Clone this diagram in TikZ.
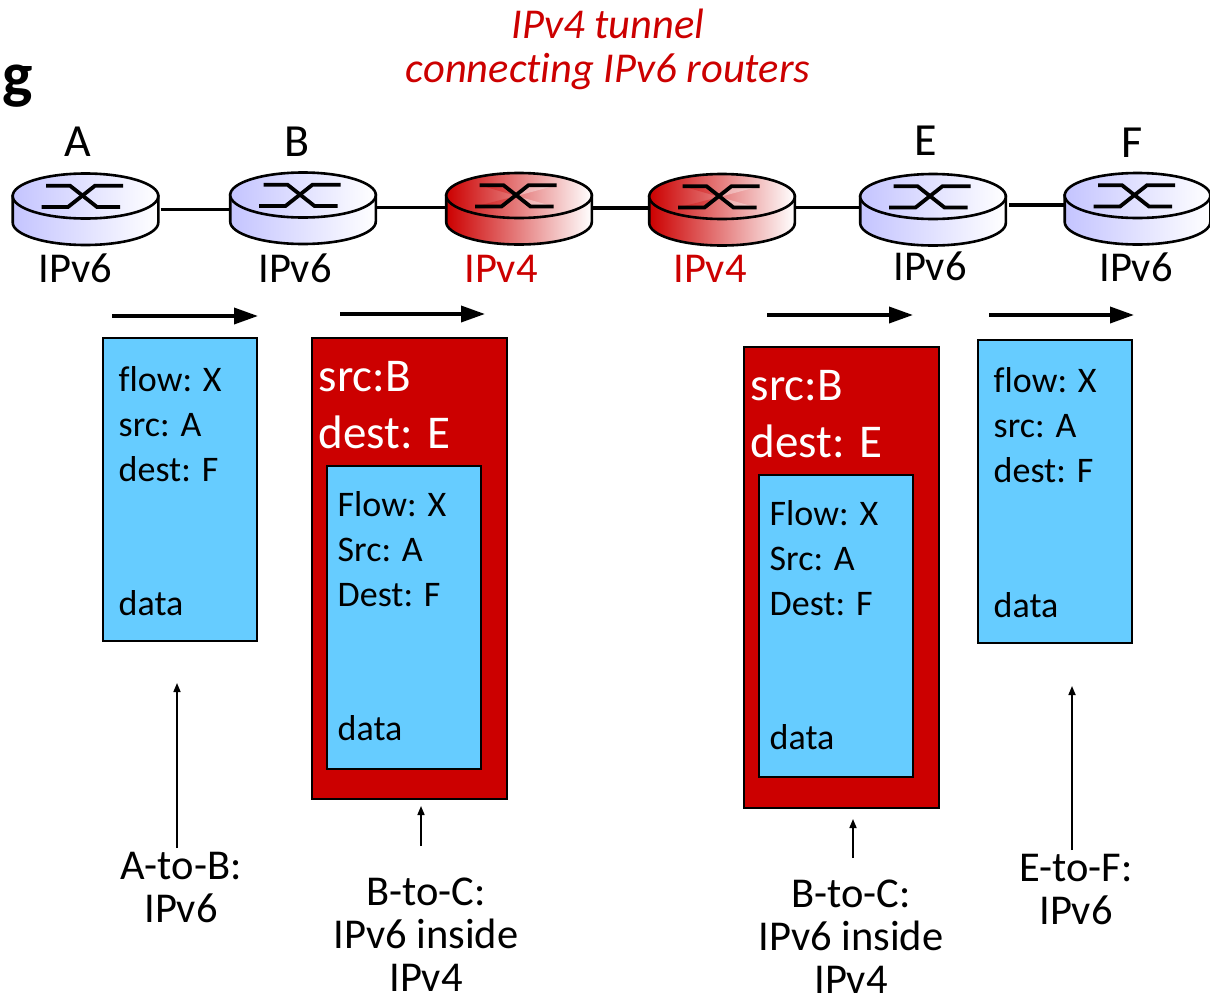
\documentclass[tikz,border=0pt]{standalone}
\usepackage{fontspec}
\setmainfont[Ligatures=NoCommon]{Carlito}
\usetikzlibrary{arrows.meta}
\definecolor{tred}{HTML}{CC0000}
\definecolor{tblue}{HTML}{66CCFF}
\definecolor{tlav}{HTML}{C4C4FF}
\tikzset{
  x=1pt,y=-1pt,
  routerbox/.style={minimum width=146pt,minimum height=73pt,inner sep=0pt,outer sep=0pt},
  link/.style={line width=3.6pt,black},
  lbl/.style={font=\fontsize{42.5}{44}\selectfont,inner sep=0pt,anchor=base},
  letter/.style={font=\fontsize{46}{48}\selectfont,inner sep=0pt,anchor=base},
  rlbl/.style={lbl,text=tred},
  bigarrow/.style={line width=3.6pt,-{Triangle[length=24pt,width=16pt]}},
  thinarrow/.style={line width=1.6pt,-{Triangle[length=9pt,width=7pt]}},
  pkt/.style={draw=black,line width=1.6pt,fill=tblue,inner sep=0pt,outer sep=0pt,anchor=north west},
  outer/.style={draw=black,line width=1.6pt,fill=tred,inner sep=0pt,outer sep=0pt,anchor=north west},
  pkttext/.style={font=\fontsize{36}{45}\selectfont,align=left,inner sep=0pt,anchor=north west},
  hdrtext/.style={font=\fontsize{47}{57}\selectfont,align=left,inner sep=0pt,anchor=north west,text=white},
  caption/.style={font=\fontsize{42.5}{43}\selectfont,align=center,inner sep=0pt,anchor=north},
}
\newcommand{\rtr}[4]{% name, centre, colour, extra drawing on the top face
  \node[routerbox] (#1) at (#2) {};
  \begin{scope}[shift={(#1.center)}]
    \draw[line width=2.6pt,black,left color=#3,right color=white,shading angle=90]
      (-72.8,-12.5) -- (-72.8,14) arc[start angle=180,end angle=0,x radius=72.8,y radius=22.5]
      -- (72.8,-12.5) -- cycle;
    \draw[line width=2.6pt,black,left color=#3,right color=white,shading angle=90]
      (0,-12.5) ellipse[x radius=72.8,y radius=22.5];
    #4
    \draw[line width=3.8pt,black] (-39.5,-22.8) -- (-15.5,-22.8) -- (11.5,-1.5) -- (34.5,-1.5);
    \draw[line width=3.8pt,black] (-44,-1.5) -- (-17.5,-1.5) -- (9.5,-22.8) -- (37.5,-22.8);
  \end{scope}
}
\newcommand{\wedges}{%
  \fill[tred,opacity=.3] (-2.5,-12) -- (-39.5,-22.8) -- (-15.5,-22.8) -- cycle;
  \fill[tred,opacity=.3] (-2.5,-12) -- (-44,-1.5) -- (-17.5,-1.5) -- cycle;
  \fill[white,opacity=.35] (-2.5,-12) -- (9.5,-22.8) -- (37.5,-22.8) -- cycle;
  \fill[white,opacity=.35] (-2.5,-12) -- (11.5,-1.5) -- (34.5,-1.5) -- cycle;
}
\begin{document}
\begin{tikzpicture}
\useasboundingbox (0,0) rectangle (1210,996);
% routers
\rtr{A}{85.5,208.5}{tlav}{}
\rtr{B}{303,207.5}{tlav}{}
\rtr{C}{519,208}{tred}{\wedges}
\rtr{D}{722,209}{tred}{\wedges}
\rtr{E}{933,209}{tlav}{}
\rtr{F}{1137.5,208}{tlav}{}
% connectors
\draw[link] ([xshift=2pt,yshift=-.8pt]A.east) -- ([yshift=-1.8pt]B.west);
\draw[link] (B.east) -- (B.east -| C.west);
\draw[link] (C.east) -- (C.east -| D.west);
\draw[link] ([yshift=1.5pt]D.east) -- ([yshift=1.5pt]E.west);
\draw[link] ([xshift=3pt,yshift=4pt]E.east) -- ([yshift=3pt]F.west);
% title
\node[font=\itshape\fontsize{42.5}{44}\selectfont,text=tred,align=center,inner sep=0pt,anchor=north] (title) at (608,9) {IPv4 tunnel\\connecting IPv6 routers};
\node[font=\bfseries\fontsize{64}{64}\selectfont,inner sep=0pt,anchor=base west] (g) at (2,96) {g};
% router letters
\node[letter] (la) at (78,156) {A};
\node[letter] (lb) at (297,156) {B};
\node[letter] (le) at (926,155) {E};
\node[letter] (lf) at (1132,157) {F};
% protocol labels
\node[lbl] (pa) at (75.5,282) {IPv6};
\node[lbl] (pb) at (295,282) {IPv6};
\node[rlbl] (pc) at (501,282) {IPv4};
\node[rlbl] (pd) at (710,282) {IPv4};
\node[lbl] (pe) at (930,280) {IPv6};
\node[lbl] (pf) at (1136,281) {IPv6};
% direction arrows
\coordinate (a1s) at (112,316); \coordinate (a1e) at (258,316);
\coordinate (a2s) at (340,314); \coordinate (a2e) at (485,314);
\coordinate (a3s) at (767,315); \coordinate (a3e) at (913,315);
\coordinate (a4s) at (989,315); \coordinate (a4e) at (1134,315);
\draw[bigarrow] (a1s) -- (a1e);
\draw[bigarrow] (a2s) -- (a2e);
\draw[bigarrow] (a3s) -- (a3e);
\draw[bigarrow] (a4s) -- (a4e);
% packets
\node[pkt,minimum width=154pt,minimum height=303pt] (p1) at (103,338) {};
\node[pkttext] (p1t) at (118.5,366) {flow: X\\src: A\\dest: F};
\node[pkttext] (p1d) at (118.5,590) {data};
\node[outer,minimum width=195pt,minimum height=461pt] (p2) at (312,338) {};
\node[hdrtext] (p2h) at (318.5,361) {src:B\\dest: E};
\node[pkt,minimum width=154pt,minimum height=303pt] (p2i) at (327,466) {};
\node[pkttext] (p2t) at (337.5,491) {Flow: X\\Src: A\\Dest: F};
\node[pkttext] (p2d) at (337.5,715) {data};
\node[outer,minimum width=195pt,minimum height=461pt] (p3) at (744,347) {};
\node[hdrtext] (p3h) at (750.5,370) {src:B\\dest: E};
\node[pkt,minimum width=154pt,minimum height=302pt] (p3i) at (759,475) {};
\node[pkttext] (p3t) at (769.5,500) {Flow: X\\Src: A\\Dest: F};
\node[pkttext] (p3d) at (769.5,724) {data};
\node[pkt,minimum width=154pt,minimum height=303pt] (p4) at (978,340) {};
\node[pkttext] (p4t) at (993.5,367) {flow: X\\src: A\\dest: F};
\node[pkttext] (p4d) at (993.5,592) {data};
% captions
\node[caption] (c1) at (181,852) {A-to-B:\\IPv6};
\node[caption] (c2) at (426,878) {B-to-C:\\IPv6 inside\\\smash{IPv4}};
\node[caption] (c3) at (851,880) {B-to-C:\\IPv6 inside\\\smash{IPv4}};
\node[caption] (c4) at (1076,854) {E-to-F:\\IPv6};
% caption arrows
\coordinate (t1s) at (177,848); \coordinate (t1e) at (177,683);
\coordinate (t2s) at (421,846); \coordinate (t2e) at (421,806);
\coordinate (t3s) at (853,858); \coordinate (t3e) at (853,819);
\coordinate (t4s) at (1072,850); \coordinate (t4e) at (1072,686);
\draw[thinarrow] (t1s) -- (t1e);
\draw[thinarrow] (t2s) -- (t2e);
\draw[thinarrow] (t3s) -- (t3e);
\draw[thinarrow] (t4s) -- (t4e);
\end{tikzpicture}
\end{document}
